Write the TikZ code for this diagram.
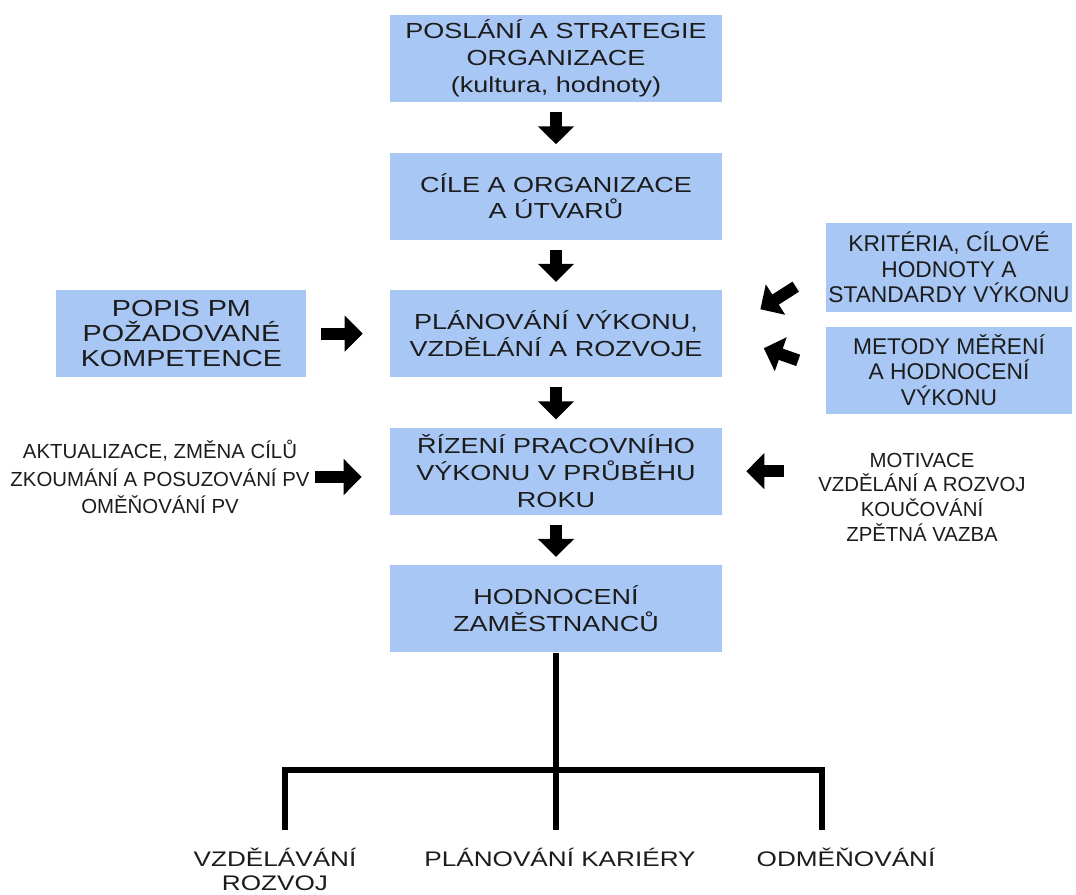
\documentclass[tikz,border=0pt]{standalone}
\usepackage{fontspec}
\setmainfont{Liberation Sans}
\newfontfamily\widefont[FakeStretch=1.24]{Liberation Sans}
\usetikzlibrary{arrows.meta,positioning,calc}
\definecolor{boxblue}{HTML}{A8C7F5}
\definecolor{ink}{HTML}{1C1C1C}

\begin{document}
\begin{tikzpicture}[node distance=12.5mm,
  mainbox/.style={fill=boxblue,minimum width=83mm,minimum height=21.75mm,align=center,text=ink,font=\widefont\fontsize{15.5}{19}\selectfont},
  sidebox/.style={fill=boxblue,minimum width=61.5mm,minimum height=21.75mm,inner xsep=0.5pt,align=center,text=ink,font=\fontsize{16.2}{18}\selectfont},
  note/.style={align=center,text=ink,inner sep=0pt,font=\fontsize{14.5}{19.5}\selectfont},
  fat/.style={line width=3mm,-{Triangle[length=4.5mm,width=8.75mm]}},
  branch/.style={line width=1.3mm}]
\useasboundingbox (0,0) rectangle (26.9,-22.375);
% main column
\node[mainbox] (pos) at (13.9,-1.4625) {POSLÁNÍ A STRATEGIE\\ORGANIZACE\\(kultura, hodnoty)};
\node[mainbox,below=of pos] (cil) {CÍLE A ORGANIZACE\\A ÚTVARŮ};
\node[mainbox,below=of cil] (plan) {PLÁNOVÁNÍ VÝKONU,\\VZDĚLÁNÍ A ROZVOJE};
\node[mainbox,below=of plan] (riz) {ŘÍZENÍ PRACOVNÍHO\\VÝKONU V PRŮBĚHU\\ROKU};
\node[mainbox,below=of riz] (hod) {HODNOCENÍ\\ZAMĚSTNANCŮ};
% inputs
\node[sidebox,font=\widefont\fontsize{16.5}{18}\selectfont,minimum width=62.5mm,left=20.75mm of plan] (popis) {POPIS PM\\POŽADOVANÉ\\KOMPETENCE};
\node[sidebox,minimum height=22.25mm] (krit) at (23.725,-6.6875) {KRITÉRIA, CÍLOVÉ\\HODNOTY A\\STANDARDY VÝKONU};
\node[sidebox,below=3.5mm of krit] (met) {METODY MĚŘENÍ\\A HODNOCENÍ\\VÝKONU};
\node[note] (akt) at (4.0,-11.925) {AKTUALIZACE, ZMĚNA CÍLŮ\\ZKOUMÁNÍ A POSUZOVÁNÍ PV\\OMĚŇOVÁNÍ PV};
\node[note,font=\fontsize{14.5}{17.6}\selectfont] (mot) at (23.05,-12.425) {MOTIVACE\\VZDĚLÁNÍ A ROZVOJ\\KOUČOVÁNÍ\\ZPĚTNÁ VAZBA};
% outcomes
\node[note,font=\widefont\fontsize{15}{17.2}\selectfont,anchor=north] (vzd) at (6.875,-21.2) {VZDĚLÁVÁNÍ\\ROZVOJ};
\node[note,font=\widefont\fontsize{15}{17.2}\selectfont,anchor=north] (kar) at (14.0,-21.2) {PLÁNOVÁNÍ KARIÉRY};
\node[note,font=\widefont\fontsize{15}{17.2}\selectfont,anchor=north] (odm) at (21.15,-21.2) {ODMĚŇOVÁNÍ};
\coordinate (fork) at ([yshift=-30.5mm]hod.south);
\coordinate (lft) at (7.125,-19.25);
\coordinate (rgt) at (20.55,-19.25);
% arrows
\draw[fat,shorten <=2.5mm,shorten >=2mm] (pos) -- (cil);
\draw[fat,shorten <=2.5mm,shorten >=2mm] (cil) -- (plan);
\draw[fat,shorten <=2.5mm,shorten >=2mm] (plan) -- (riz);
\draw[fat,shorten <=2.5mm,shorten >=2mm] (riz) -- (hod);
\draw[fat,shorten <=3.5mm,shorten >=6.75mm] (popis) -- (plan);
\draw[fat,shorten <=8.9mm,shorten >=11.3mm] (krit.west) -- (plan.east);
\draw[fat,shorten <=7.3mm,shorten >=11mm] (met.west) -- (plan.east);
\draw[fat,shorten <=1.25mm,shorten >=7mm] (akt.east) -- (akt.east -| riz.west);
\draw[fat,shorten <=8.4mm,shorten >=6mm] (riz.east -| mot.west) -- (riz.east);
% tree
\draw[branch] (hod.south) -- (fork);
\draw[branch,shorten <=4.5mm,shorten >=4.5mm] (vzd.north -| lft) -- (lft) -- (rgt) -- (rgt |- odm.north);
\draw[branch,shorten >=4.5mm] (fork) -- (fork |- kar.north);
\end{tikzpicture}
\end{document}
